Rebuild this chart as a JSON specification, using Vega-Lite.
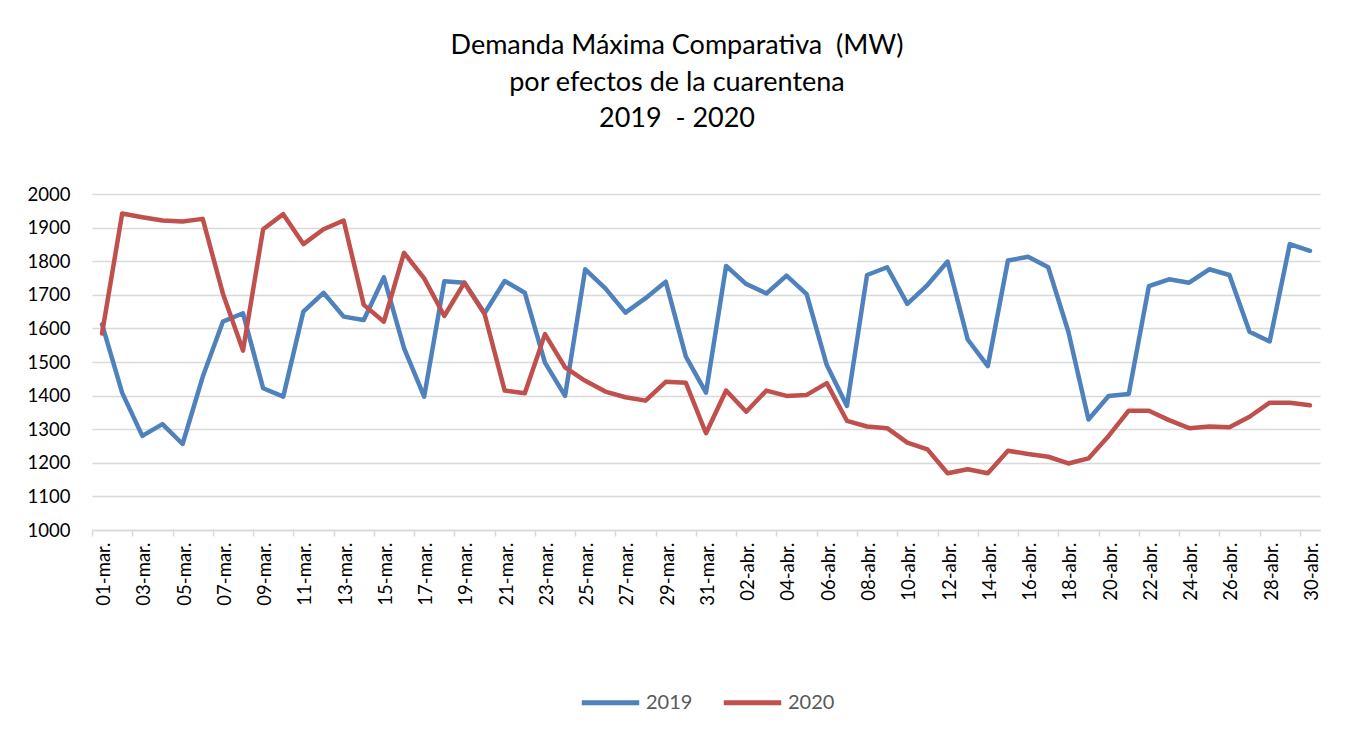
{
  "$schema": "https://vega.github.io/schema/vega-lite/v6.json",
  "autosize": {"type": "none"},
  "width": 1228,
  "height": 336,
  "padding": {"left": 92, "top": 194, "right": 31, "bottom": 212},
  "background": "white",
  "config": {"font": "Lato", "view": {"stroke": null}},
  "title": {
    "text": ["Demanda Máxima Comparativa\u00a0\u00a0(MW)", "por efectos de la cuarentena", "2019\u00a0\u00a0- 2020"],
    "font": "Lato", "fontSize": 27, "fontWeight": "normal", "color": "#000000",
    "lineHeight": 36.5, "anchor": "middle", "frame": "group", "dx": -29, "offset": 52
  },
  "data": {"values": [
    {"d":1,"serie":"2019","mw":1612},{"d":2,"serie":"2019","mw":1408},{"d":3,"serie":"2019","mw":1280},{"d":4,"serie":"2019","mw":1315},{"d":5,"serie":"2019","mw":1256},{"d":6,"serie":"2019","mw":1456},{"d":7,"serie":"2019","mw":1620},{"d":8,"serie":"2019","mw":1645},{"d":9,"serie":"2019","mw":1422},{"d":10,"serie":"2019","mw":1397},
    {"d":11,"serie":"2019","mw":1650},{"d":12,"serie":"2019","mw":1706},{"d":13,"serie":"2019","mw":1635},{"d":14,"serie":"2019","mw":1625},{"d":15,"serie":"2019","mw":1752},{"d":16,"serie":"2019","mw":1541},{"d":17,"serie":"2019","mw":1397},{"d":18,"serie":"2019","mw":1740},{"d":19,"serie":"2019","mw":1736},{"d":20,"serie":"2019","mw":1645},
    {"d":21,"serie":"2019","mw":1741},{"d":22,"serie":"2019","mw":1706},{"d":23,"serie":"2019","mw":1498},{"d":24,"serie":"2019","mw":1399},{"d":25,"serie":"2019","mw":1776},{"d":26,"serie":"2019","mw":1719},{"d":27,"serie":"2019","mw":1647},{"d":28,"serie":"2019","mw":1690},{"d":29,"serie":"2019","mw":1739},{"d":30,"serie":"2019","mw":1516},
    {"d":31,"serie":"2019","mw":1409},{"d":32,"serie":"2019","mw":1786},{"d":33,"serie":"2019","mw":1732},{"d":34,"serie":"2019","mw":1704},{"d":35,"serie":"2019","mw":1757},{"d":36,"serie":"2019","mw":1702},{"d":37,"serie":"2019","mw":1491},{"d":38,"serie":"2019","mw":1369},{"d":39,"serie":"2019","mw":1759},{"d":40,"serie":"2019","mw":1782},
    {"d":41,"serie":"2019","mw":1673},{"d":42,"serie":"2019","mw":1729},{"d":43,"serie":"2019","mw":1799},{"d":44,"serie":"2019","mw":1567},{"d":45,"serie":"2019","mw":1488},{"d":46,"serie":"2019","mw":1802},{"d":47,"serie":"2019","mw":1813},{"d":48,"serie":"2019","mw":1782},{"d":49,"serie":"2019","mw":1590},{"d":50,"serie":"2019","mw":1329},
    {"d":51,"serie":"2019","mw":1399},{"d":52,"serie":"2019","mw":1405},{"d":53,"serie":"2019","mw":1726},{"d":54,"serie":"2019","mw":1746},{"d":55,"serie":"2019","mw":1736},{"d":56,"serie":"2019","mw":1776},{"d":57,"serie":"2019","mw":1759},{"d":58,"serie":"2019","mw":1590},{"d":59,"serie":"2019","mw":1561},{"d":60,"serie":"2019","mw":1851},{"d":61,"serie":"2019","mw":1831},
    {"d":1,"serie":"2020","mw":1585},{"d":2,"serie":"2020","mw":1942},{"d":3,"serie":"2020","mw":1931},{"d":4,"serie":"2020","mw":1921},{"d":5,"serie":"2020","mw":1918},{"d":6,"serie":"2020","mw":1926},{"d":7,"serie":"2020","mw":1704},{"d":8,"serie":"2020","mw":1534},{"d":9,"serie":"2020","mw":1895},{"d":10,"serie":"2020","mw":1940},
    {"d":11,"serie":"2020","mw":1851},{"d":12,"serie":"2020","mw":1895},{"d":13,"serie":"2020","mw":1921},{"d":14,"serie":"2020","mw":1670},{"d":15,"serie":"2020","mw":1620},{"d":16,"serie":"2020","mw":1825},{"d":17,"serie":"2020","mw":1749},{"d":18,"serie":"2020","mw":1637},{"d":19,"serie":"2020","mw":1736},{"d":20,"serie":"2020","mw":1643},
    {"d":21,"serie":"2020","mw":1415},{"d":22,"serie":"2020","mw":1407},{"d":23,"serie":"2020","mw":1583},{"d":24,"serie":"2020","mw":1484},{"d":25,"serie":"2020","mw":1444},{"d":26,"serie":"2020","mw":1412},{"d":27,"serie":"2020","mw":1395},{"d":28,"serie":"2020","mw":1385},{"d":29,"serie":"2020","mw":1441},{"d":30,"serie":"2020","mw":1438},
    {"d":31,"serie":"2020","mw":1288},{"d":32,"serie":"2020","mw":1415},{"d":33,"serie":"2020","mw":1352},{"d":34,"serie":"2020","mw":1415},{"d":35,"serie":"2020","mw":1399},{"d":36,"serie":"2020","mw":1402},{"d":37,"serie":"2020","mw":1437},{"d":38,"serie":"2020","mw":1325},{"d":39,"serie":"2020","mw":1308},{"d":40,"serie":"2020","mw":1303},
    {"d":41,"serie":"2020","mw":1260},{"d":42,"serie":"2020","mw":1240},{"d":43,"serie":"2020","mw":1169},{"d":44,"serie":"2020","mw":1181},{"d":45,"serie":"2020","mw":1169},{"d":46,"serie":"2020","mw":1236},{"d":47,"serie":"2020","mw":1226},{"d":48,"serie":"2020","mw":1218},{"d":49,"serie":"2020","mw":1198},{"d":50,"serie":"2020","mw":1213},
    {"d":51,"serie":"2020","mw":1280},{"d":52,"serie":"2020","mw":1355},{"d":53,"serie":"2020","mw":1355},{"d":54,"serie":"2020","mw":1327},{"d":55,"serie":"2020","mw":1303},{"d":56,"serie":"2020","mw":1308},{"d":57,"serie":"2020","mw":1306},{"d":58,"serie":"2020","mw":1337},{"d":59,"serie":"2020","mw":1379},{"d":60,"serie":"2020","mw":1379},{"d":61,"serie":"2020","mw":1371}
  ]},
  "mark": {"type": "line", "strokeWidth": 4.5, "strokeCap": "round", "strokeJoin": "round"},
  "encoding": {
    "x": {
      "field": "d", "type": "quantitative",
      "scale": {"domain": [0.5, 61.5], "nice": false, "zero": false},
      "axis": {
        "values": [1,3,5,7,9,11,13,15,17,19,21,23,25,27,29,31,33,35,37,39,41,43,45,47,49,51,53,55,57,59,61],
        "labelExpr": "datum.value <= 31 ? (datum.value < 10 ? '0' : '') + datum.value + '-mar.' : ((datum.value - 31) < 10 ? '0' : '') + (datum.value - 31) + '-abr.'",
        "labelAngle": -90, "labelAlign": "right", "labelBaseline": "middle",
        "labelFont": "Lato", "labelFontSize": 18.5, "labelColor": "#000000", "labelPadding": 6, "labelOffset": 11.5,
        "ticks": true, "tickSize": 6, "tickColor": "#D9D9D9", "tickWidth": 1.5, "tickOffset": -10.07,
        "domain": true, "domainColor": "#D9D9D9", "domainWidth": 1.5,
        "grid": false, "title": null, "labelOverlap": false, "labelFlush": false
      }
    },
    "y": {
      "field": "mw", "type": "quantitative",
      "scale": {"domain": [1000, 2000], "nice": false, "zero": false},
      "axis": {
        "values": [1000,1100,1200,1300,1400,1500,1600,1700,1800,1900,2000],
        "format": "d",
        "title": null, "domain": false, "ticks": false,
        "labelFont": "Lato", "labelFontSize": 18.5, "labelColor": "#000000", "labelPadding": 22,
        "grid": true, "gridColor": "#D9D9D9", "gridWidth": 1.5
      }
    },
    "color": {
      "field": "serie", "type": "nominal",
      "scale": {"domain": ["2019", "2020"], "range": ["#4F81BD", "#C0504D"]},
      "legend": {
        "title": null, "orient": "none", "direction": "horizontal",
        "legendX": 487, "legendY": 477,
        "symbolType": "stroke", "symbolSize": 3300, "symbolStrokeWidth": 5,
        "labelFont": "Lato", "labelFontSize": 20, "labelColor": "#595959",
        "labelOffset": 4, "columnPadding": 20
      }
    }
  }
}
